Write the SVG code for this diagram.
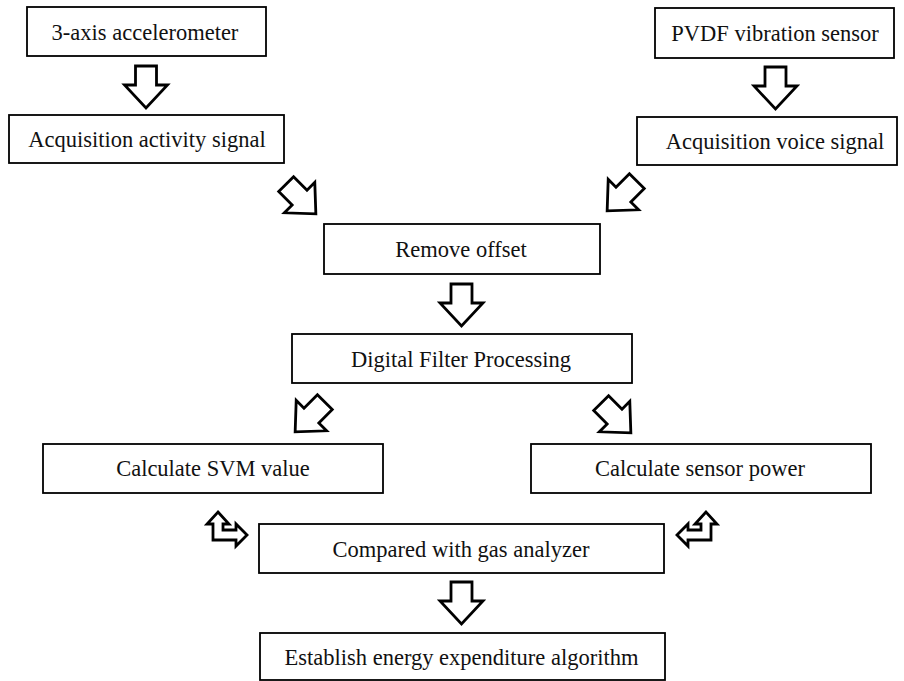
<svg xmlns="http://www.w3.org/2000/svg" width="904" height="681" viewBox="0 0 904 681">
<style>
.box{fill:#fff;stroke:#000;stroke-width:1.8}
.lbl{font-family:"Liberation Serif","Times New Roman",serif;font-size:22.5px;fill:#111;text-anchor:middle}
.arr{fill:#fff;stroke:#000;stroke-width:2.8;stroke-linejoin:miter}
</style>
<defs>
<path id="dn" d="M-10.5,-21 L10.5,-21 L10.5,-2 L21.5,-2 L0,21 L-21.5,-2 L-10.5,-2 Z"/>
</defs>
<rect width="904" height="681" fill="#fff"/>
<g id="connectors">
<use href="#dn" class="arr" transform="translate(146,87)"/>
<use href="#dn" class="arr" transform="translate(775.5,88)"/>
<use href="#dn" class="arr" transform="translate(301,199) rotate(-45)"/>
<use href="#dn" class="arr" transform="translate(622,196) rotate(45)"/>
<use href="#dn" class="arr" transform="translate(461.5,305)"/>
<use href="#dn" class="arr" transform="translate(310,417) rotate(45)"/>
<use href="#dn" class="arr" transform="translate(616,418) rotate(-45)"/>
<path class="arr" d="M218,512 L229,524 L223,524 L223,530 L236,530 L236,524 L247,535 L236,546 L236,540 L213,540 L213,524 L207,524 Z"/>
<path class="arr" d="M706,512 L695,524 L701,524 L701,530 L688,530 L688,524 L677,535 L688,546 L688,540 L711,540 L711,524 L717,524 Z"/>
<use href="#dn" class="arr" transform="translate(461.5,603)"/>
</g>
<g id="n1"><rect class="box" x="27" y="7" width="239" height="49"/><text class="lbl" x="145" y="40">3-axis accelerometer</text></g>
<g id="n2"><rect class="box" x="9" y="115" width="275" height="48"/><text class="lbl" x="147" y="147">Acquisition activity signal</text></g>
<g id="n3"><rect class="box" x="655" y="8" width="239" height="50"/><text class="lbl" x="775" y="41">PVDF vibration sensor</text></g>
<g id="n4"><rect class="box" x="637" y="117" width="260" height="48"/><text class="lbl" x="775" y="149">Acquisition voice signal</text></g>
<g id="n5"><rect class="box" x="324" y="224" width="276" height="50"/><text class="lbl" x="461" y="257">Remove offset</text></g>
<g id="n6"><rect class="box" x="292" y="334" width="340" height="49"/><text class="lbl" x="461" y="367">Digital Filter Processing</text></g>
<g id="n7"><rect class="box" x="43" y="444" width="340" height="49"/><text class="lbl" x="213" y="476">Calculate SVM value</text></g>
<g id="n8"><rect class="box" x="531" y="444" width="340" height="49"/><text class="lbl" x="700" y="476">Calculate sensor power</text></g>
<g id="n9"><rect class="box" x="259" y="524" width="405" height="49"/><text class="lbl" x="461" y="557">Compared with gas analyzer</text></g>
<g id="n10"><rect class="box" x="260" y="633" width="405" height="47"/><text class="lbl" x="461.5" y="665">Establish energy expenditure algorithm</text></g>
</svg>
